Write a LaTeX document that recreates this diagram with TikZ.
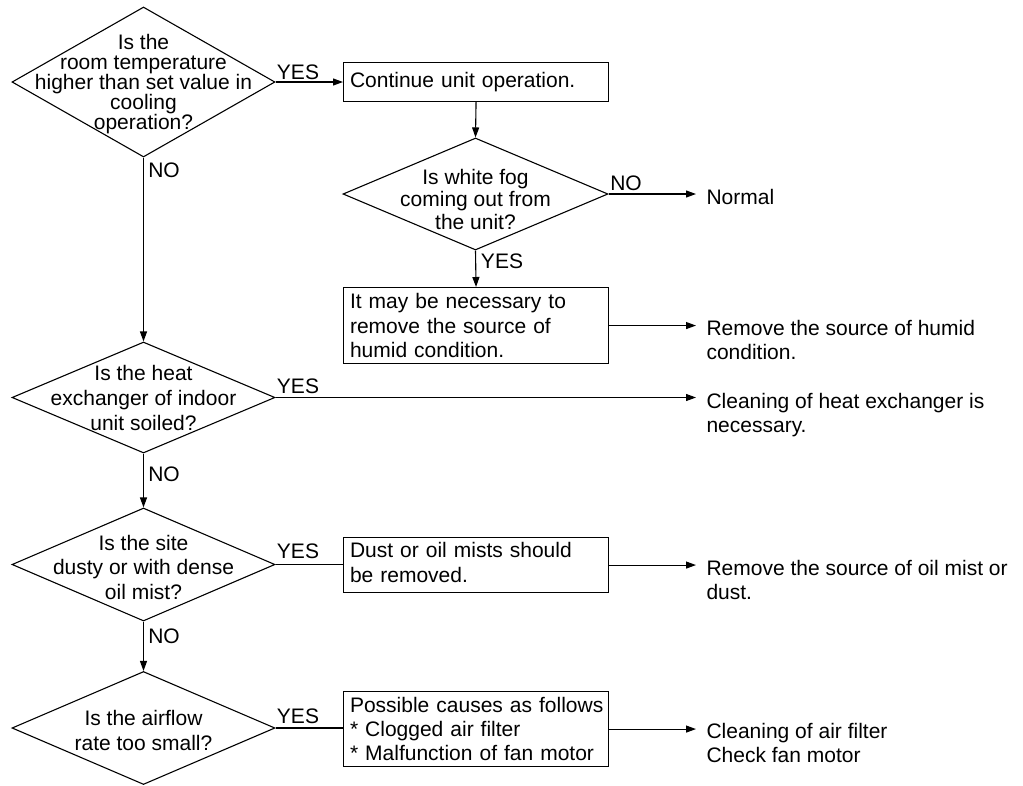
\documentclass[tikz,border=0pt]{standalone}
\usepackage{fontspec}
\setmainfont{Liberation Sans}
\usetikzlibrary{shapes.geometric,arrows.meta}
\begin{document}
\begin{tikzpicture}[x=1pt,y=-1pt,line width=1.1pt,
  txt/.style={font=\fontsize{21}{24}\selectfont,inner sep=0pt},
  dia/.style={draw,diamond,inner sep=0pt,minimum width=263pt},
  qtext/.style={txt,align=center},
  box/.style={draw,rectangle,anchor=north west,minimum width=265pt,text width=252pt,inner xsep=6.5pt,inner ysep=0pt,align=left,font=\fontsize{21}{24.5}\selectfont},
  res/.style={txt,anchor=base west,align=left},
  arr/.style={-{Triangle[length=10pt,width=7pt]}}
]
\useasboundingbox (0,0) rectangle (1023,785);

% decisions
\node[dia,minimum height=150pt] (d1) at (143.5,82) {};
\node[qtext,font=\fontsize{21}{20}\selectfont] (q1) at (143.5,84) {Is the\\room temperature\\higher than set value in\\cooling\\operation?};

\node[dia,minimum width=265pt,minimum height=112pt] (d5) at (475.5,194) {};
\node[qtext,font=\fontsize{21}{22.5}\selectfont] (q5) at (475.5,199) {Is white fog\\coming out from\\the unit?};

\node[dia,minimum height=111pt] (d2) at (143.5,397.5) {};
\node[qtext,font=\fontsize{21}{25}\selectfont] (q2) at (143.5,398) {Is the heat\\exchanger of indoor\\unit soiled?};

\node[dia,minimum height=113pt] (d3) at (143.5,564.5) {};
\node[qtext,font=\fontsize{21}{24.5}\selectfont] (q3) at (143.5,567) {Is the site\\dusty or with dense\\oil mist?};

\node[dia,minimum height=113pt] (d4) at (143.5,728) {};
\node[qtext,font=\fontsize{21}{25}\selectfont] (q4) at (143.5,730) {Is the airflow\\rate too small?};

% boxes
\node[box,minimum height=39pt] (b1) at (343,62) {Continue unit operation.};
\node[box,minimum height=76pt] (b2) at (343,287) {It may be necessary to\\remove the source of\\humid condition.};
\node[box,minimum height=55pt] (b3) at (343,537) {Dust or oil mists should\\be removed.\vspace{5pt}};
\node[box,minimum height=75pt,font=\fontsize{21}{24}\selectfont] (b4) at (343,691) {\mbox{Possible causes as follows}\\{*} Clogged air filter\\{*} Malfunction of fan motor};

% results (base = baseline of the last line)
\coordinate (e1) at (696,194);
\node[res] (r1) at (706,204) {Normal};
\node[res] (r2) at (706,359) {Remove the source of humid\\condition.};
\node[res] (r3) at (706,432) {Cleaning of heat exchanger is\\necessary.};
\node[res] (r4) at (706,599) {Remove the source of oil mist or\\dust.};
\node[res] (r5) at (706,762) {Cleaning of air filter\\Check fan motor};

% labels
\node[txt] (y1) at (298,72) {YES};
\node[txt] (n1) at (164,170) {NO};
\node[txt] (n5) at (626,183) {NO};
\node[txt] (y5) at (502,261) {YES};
\node[txt] (y2) at (298,386) {YES};
\node[txt] (n2) at (164,474) {NO};
\node[txt] (y3) at (298,551) {YES};
\node[txt] (n3) at (164,636) {NO};
\node[txt] (y4) at (298,716) {YES};

% connectors
\draw[arr] (d1.east) -- (d1.east -| b1.west);
\draw[arr] (b1.south) -- (d5.north);
\draw[arr] (d5.east) -- (e1);
\draw[arr] (d5.south) -- (b2.north);
\draw[arr] (b2.east) -- (b2.east -| e1);
\draw[arr] (d1.south) -- (d2.north);
\draw[arr] (d2.east) -- (d2.east -| e1);
\draw[arr] (d2.south) -- (d3.north);
\draw (d3.east) -- (d3.east -| b3.west);
\draw[arr] (b3.east) -- (b3.east -| e1);
\draw[arr] (d3.south) -- (d4.north);
\draw (d4.east) -- (d4.east -| b4.west);
\draw[arr] (b4.east) -- (b4.east -| e1);
\end{tikzpicture}
\end{document}
